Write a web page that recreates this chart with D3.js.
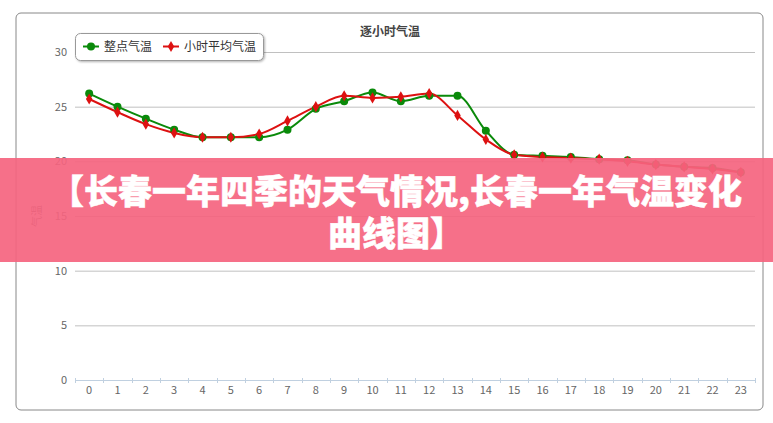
<!DOCTYPE html>
<html lang="zh">
<head>
<meta charset="utf-8">
<title>逐小时气温</title>
<script src="https://d3js.org/d3.v7.min.js"></script>
<style>
  body { margin: 0; background: #fff; }
  text { font-family: "Noto Sans CJK SC", "DejaVu Sans", sans-serif; }
</style>
</head>
<body>
<div id="chart"></div>
<script>
// hours on the x axis
var hours = d3.range(0, 24);
// 整点气温
var pointTemp = [26.2, 25.0, 23.9, 22.9, 22.2, 22.2, 22.2, 22.9, 24.8, 25.5, 26.3, 25.5,
                 26.0, 26.0, 22.8, 20.6, 20.5, 20.4, 20.2, 20.1, 19.7, 19.5, 19.4, 19.0];
// 小时平均气温
var avgTemp = [25.7, 24.5, 23.4, 22.6, 22.2, 22.2, 22.5, 23.7, 25.0, 26.0, 25.8, 25.9,
               26.2, 24.2, 22.0, 20.6, 20.4, 20.3, 20.2, 20.0, 19.7, 19.5, 19.3, 19.0];
var yTicks = [0, 5, 10, 15, 20, 25, 30];
var seriesNames = ["整点气温", "小时平均气温"];
var seriesColors = ["#0a8a0a", "#dd1111"];
var bannerLines = ["【长春一年四季的天气情况,长春一年气温变化", "曲线图】"];

var w = 773, h = 423;
var margin = { top: 52, right: 18, bottom: 43, left: 75 };
var width = w - margin.left - margin.right, height = h - margin.top - margin.bottom;

var svg = d3.select("#chart").append("svg")
    .attr("width", w).attr("height", h);

var defs = svg.append("defs");
var shadow = defs.append("filter").attr("id", "shadow")
    .attr("x", "-10%").attr("y", "-30%").attr("width", "130%").attr("height", "180%");
shadow.append("feDropShadow").attr("dx", 1).attr("dy", 1).attr("stdDeviation", 1.2)
    .attr("flood-color", "#000").attr("flood-opacity", 0.3);

// chart border
svg.append("rect")
    .attr("x", 16).attr("y", 13).attr("width", 747).attr("height", 397)
    .attr("rx", 5).attr("fill", "#fff").attr("stroke", "#888").attr("stroke-width", 1);

// title
svg.append("text")
    .attr("x", 390).attr("y", 36)
    .attr("text-anchor", "middle")
    .attr("font-size", "12px").attr("font-weight", "bold").attr("fill", "#444")
    .text("逐小时气温");

var g = svg.append("g").attr("transform", `translate(${margin.left},${margin.top})`);

var x = d3.scaleBand().domain(hours).range([0, width]);
var y = d3.scaleLinear().domain([0, 30]).range([height, 0]);

// horizontal grid
g.append("g").selectAll("line")
    .data(yTicks.filter(d => d > 0))
    .join("line")
    .attr("x1", 0).attr("x2", width)
    .attr("y1", d => y(d) + 0.5).attr("y2", d => y(d) + 0.5)
    .attr("stroke", "#c0c0c0").attr("stroke-width", 1);

// y labels
g.append("g").selectAll("text")
    .data(yTicks)
    .join("text")
    .attr("x", -8).attr("y", d => y(d) + 4)
    .attr("text-anchor", "end")
    .attr("font-size", "11px").attr("fill", "#666")
    .text(d => d);

// y title
svg.append("text")
    .attr("transform", "translate(41,216) rotate(-90)")
    .attr("text-anchor", "middle")
    .attr("font-size", "11px").attr("fill", "#666")
    .text("气温");

// x axis
var xAxis = g.append("g")
    .attr("transform", `translate(0,${height})`);
xAxis.append("line")
    .attr("x1", 0).attr("x2", width).attr("y1", 0.5).attr("y2", 0.5)
    .attr("stroke", "#c0d0e0");
xAxis.selectAll("line.tick")
    .data(d3.range(0, 25))
    .join("line").attr("class", "tick")
    .attr("x1", d => Math.round(d * x.step()) + 0.5).attr("x2", d => Math.round(d * x.step()) + 0.5)
    .attr("y1", -2).attr("y2", 3)
    .attr("stroke", "#c0d0e0");
xAxis.selectAll("text")
    .data(hours)
    .join("text")
    .attr("x", d => x(d) + x.bandwidth() / 2).attr("y", 14)
    .attr("text-anchor", "middle")
    .attr("font-size", "11px").attr("fill", "#666")
    .text(d => d);

// lines
var line = d3.line()
    .x((d, i) => x(hours[i]) + x.bandwidth() / 2)
    .y(d => y(d))
    .curve(d3.curveMonotoneX);

[pointTemp, avgTemp].forEach(function (series, si) {
    g.append("path")
        .datum(series)
        .attr("d", line)
        .attr("fill", "none")
        .attr("stroke", seriesColors[si])
        .attr("stroke-width", 2);
});

// markers
g.append("g").selectAll("circle")
    .data(pointTemp)
    .join("circle")
    .attr("cx", (d, i) => x(hours[i]) + x.bandwidth() / 2)
    .attr("cy", d => y(d))
    .attr("r", 4)
    .attr("fill", seriesColors[0]);

var diamond = d3.symbol().type(d3.symbolDiamond).size(36);
g.append("g").selectAll("path")
    .data(avgTemp)
    .join("path")
    .attr("transform", (d, i) => `translate(${x(hours[i]) + x.bandwidth() / 2},${y(d)})`)
    .attr("d", diamond)
    .attr("fill", seriesColors[1]);

// legend
var legend = svg.append("g");
legend.append("rect")
    .attr("x", 75.5).attr("y", 33.5).attr("width", 188).attr("height", 27)
    .attr("rx", 5).attr("fill", "#fff").attr("stroke", "#999")
    .attr("filter", "url(#shadow)");
var legendX = [83, 163];
seriesNames.forEach(function (name, i) {
    var lx = legendX[i];
    legend.append("line")
        .attr("x1", lx).attr("x2", lx + 16).attr("y1", 46.5).attr("y2", 46.5)
        .attr("stroke", seriesColors[i]).attr("stroke-width", 2);
    if (i == 0) {
        legend.append("circle").attr("cx", lx + 8).attr("cy", 46.5).attr("r", 4).attr("fill", seriesColors[i]);
    } else {
        legend.append("path").attr("transform", `translate(${lx + 8},46.5)`)
            .attr("d", diamond).attr("fill", seriesColors[i]);
    }
    legend.append("text")
        .attr("x", lx + 21).attr("y", 50.5)
        .attr("font-size", "12px").attr("fill", "#333")
        .text(name);
});

// pink banner overlay
svg.append("rect")
    .attr("x", 0).attr("y", 158).attr("width", w).attr("height", 104)
    .attr("fill", "#f5647f").attr("opacity", 0.92);
svg.append("g").selectAll("text")
    .data(bannerLines)
    .join("text")
    .attr("x", 396).attr("y", (d, i) => 204 + i * 42)
    .attr("text-anchor", "middle")
    .attr("font-size", "34px").attr("font-weight", "900").attr("fill", "#fff")
    .attr("stroke", "#fff").attr("stroke-width", 0.5)
    .text(d => d);
</script>
</body>
</html>
